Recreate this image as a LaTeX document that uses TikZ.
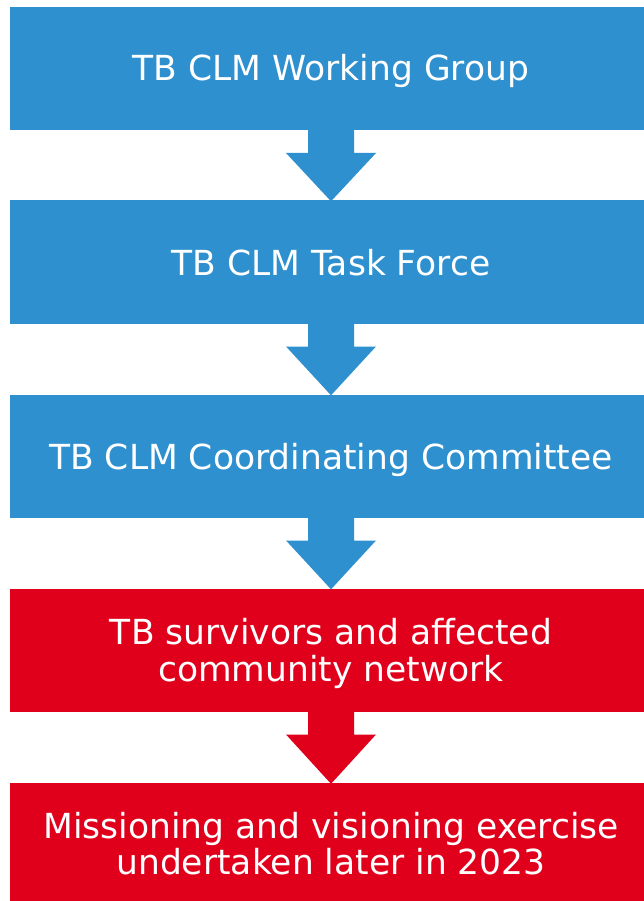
\documentclass[tikz,border=0pt]{standalone}
\usepackage{fontspec}
\setmainfont{DejaVu Sans}
\usetikzlibrary{calc}
\definecolor{cblue}{RGB}{46,144,206}
\definecolor{cred}{RGB}{224,0,27}
\newcommand\flowarrow[3]{%
  \fill[#3] ($(#1.south)+(-23,-0.5)$) -- ($(#1.south)+(23,-0.5)$) -- ($(#1.south)+(23,23)$) -- ($(#1.south)+(45,23)$) -- ($(#2.north)+(0,0.8)$) -- ($(#1.south)+(-45,23)$) -- ($(#1.south)+(-23,23)$) -- cycle;}
\begin{document}
\begin{tikzpicture}[x=1pt,y=-1pt,
  box/.style={rectangle, draw=none, minimum width=642pt, minimum height=123pt, inner sep=0pt, outer sep=0pt},
  lbl/.style={anchor=base, text=white, inner sep=0pt, font=\fontsize{34.5}{37}\selectfont}]
\useasboundingbox (0,0) rectangle (643,901);
\node[box, fill=cblue] (b1) at (331,68.5) {};
\node[box, fill=cblue] (b2) at (331,262) {};
\node[box, fill=cblue] (b3) at (331,456) {};
\node[box, fill=cred] (b4) at (331,650) {};
\node[box, fill=cred] (b5) at (331,844.5) {};
\flowarrow{b1}{b2}{cblue}
\flowarrow{b2}{b3}{cblue}
\flowarrow{b3}{b4}{cblue}
\flowarrow{b4}{b5}{cred}
\node[lbl] (t1) at (331,81) {TB CLM Working Group};
\node[lbl] (t2) at (331,275) {TB CLM Task Force};
\node[lbl] (t3) at (331,469) {TB CLM Coordinating Committee};
\node[lbl] (t4a) at (331,644) {TB survivors and affected};
\node[lbl] (t4b) at (331,681) {community network};
\node[lbl] (t5a) at (331,838) {Missioning and visioning exercise};
\node[lbl] (t5b) at (331,874) {undertaken later in 2023};
\end{tikzpicture}
\end{document}
